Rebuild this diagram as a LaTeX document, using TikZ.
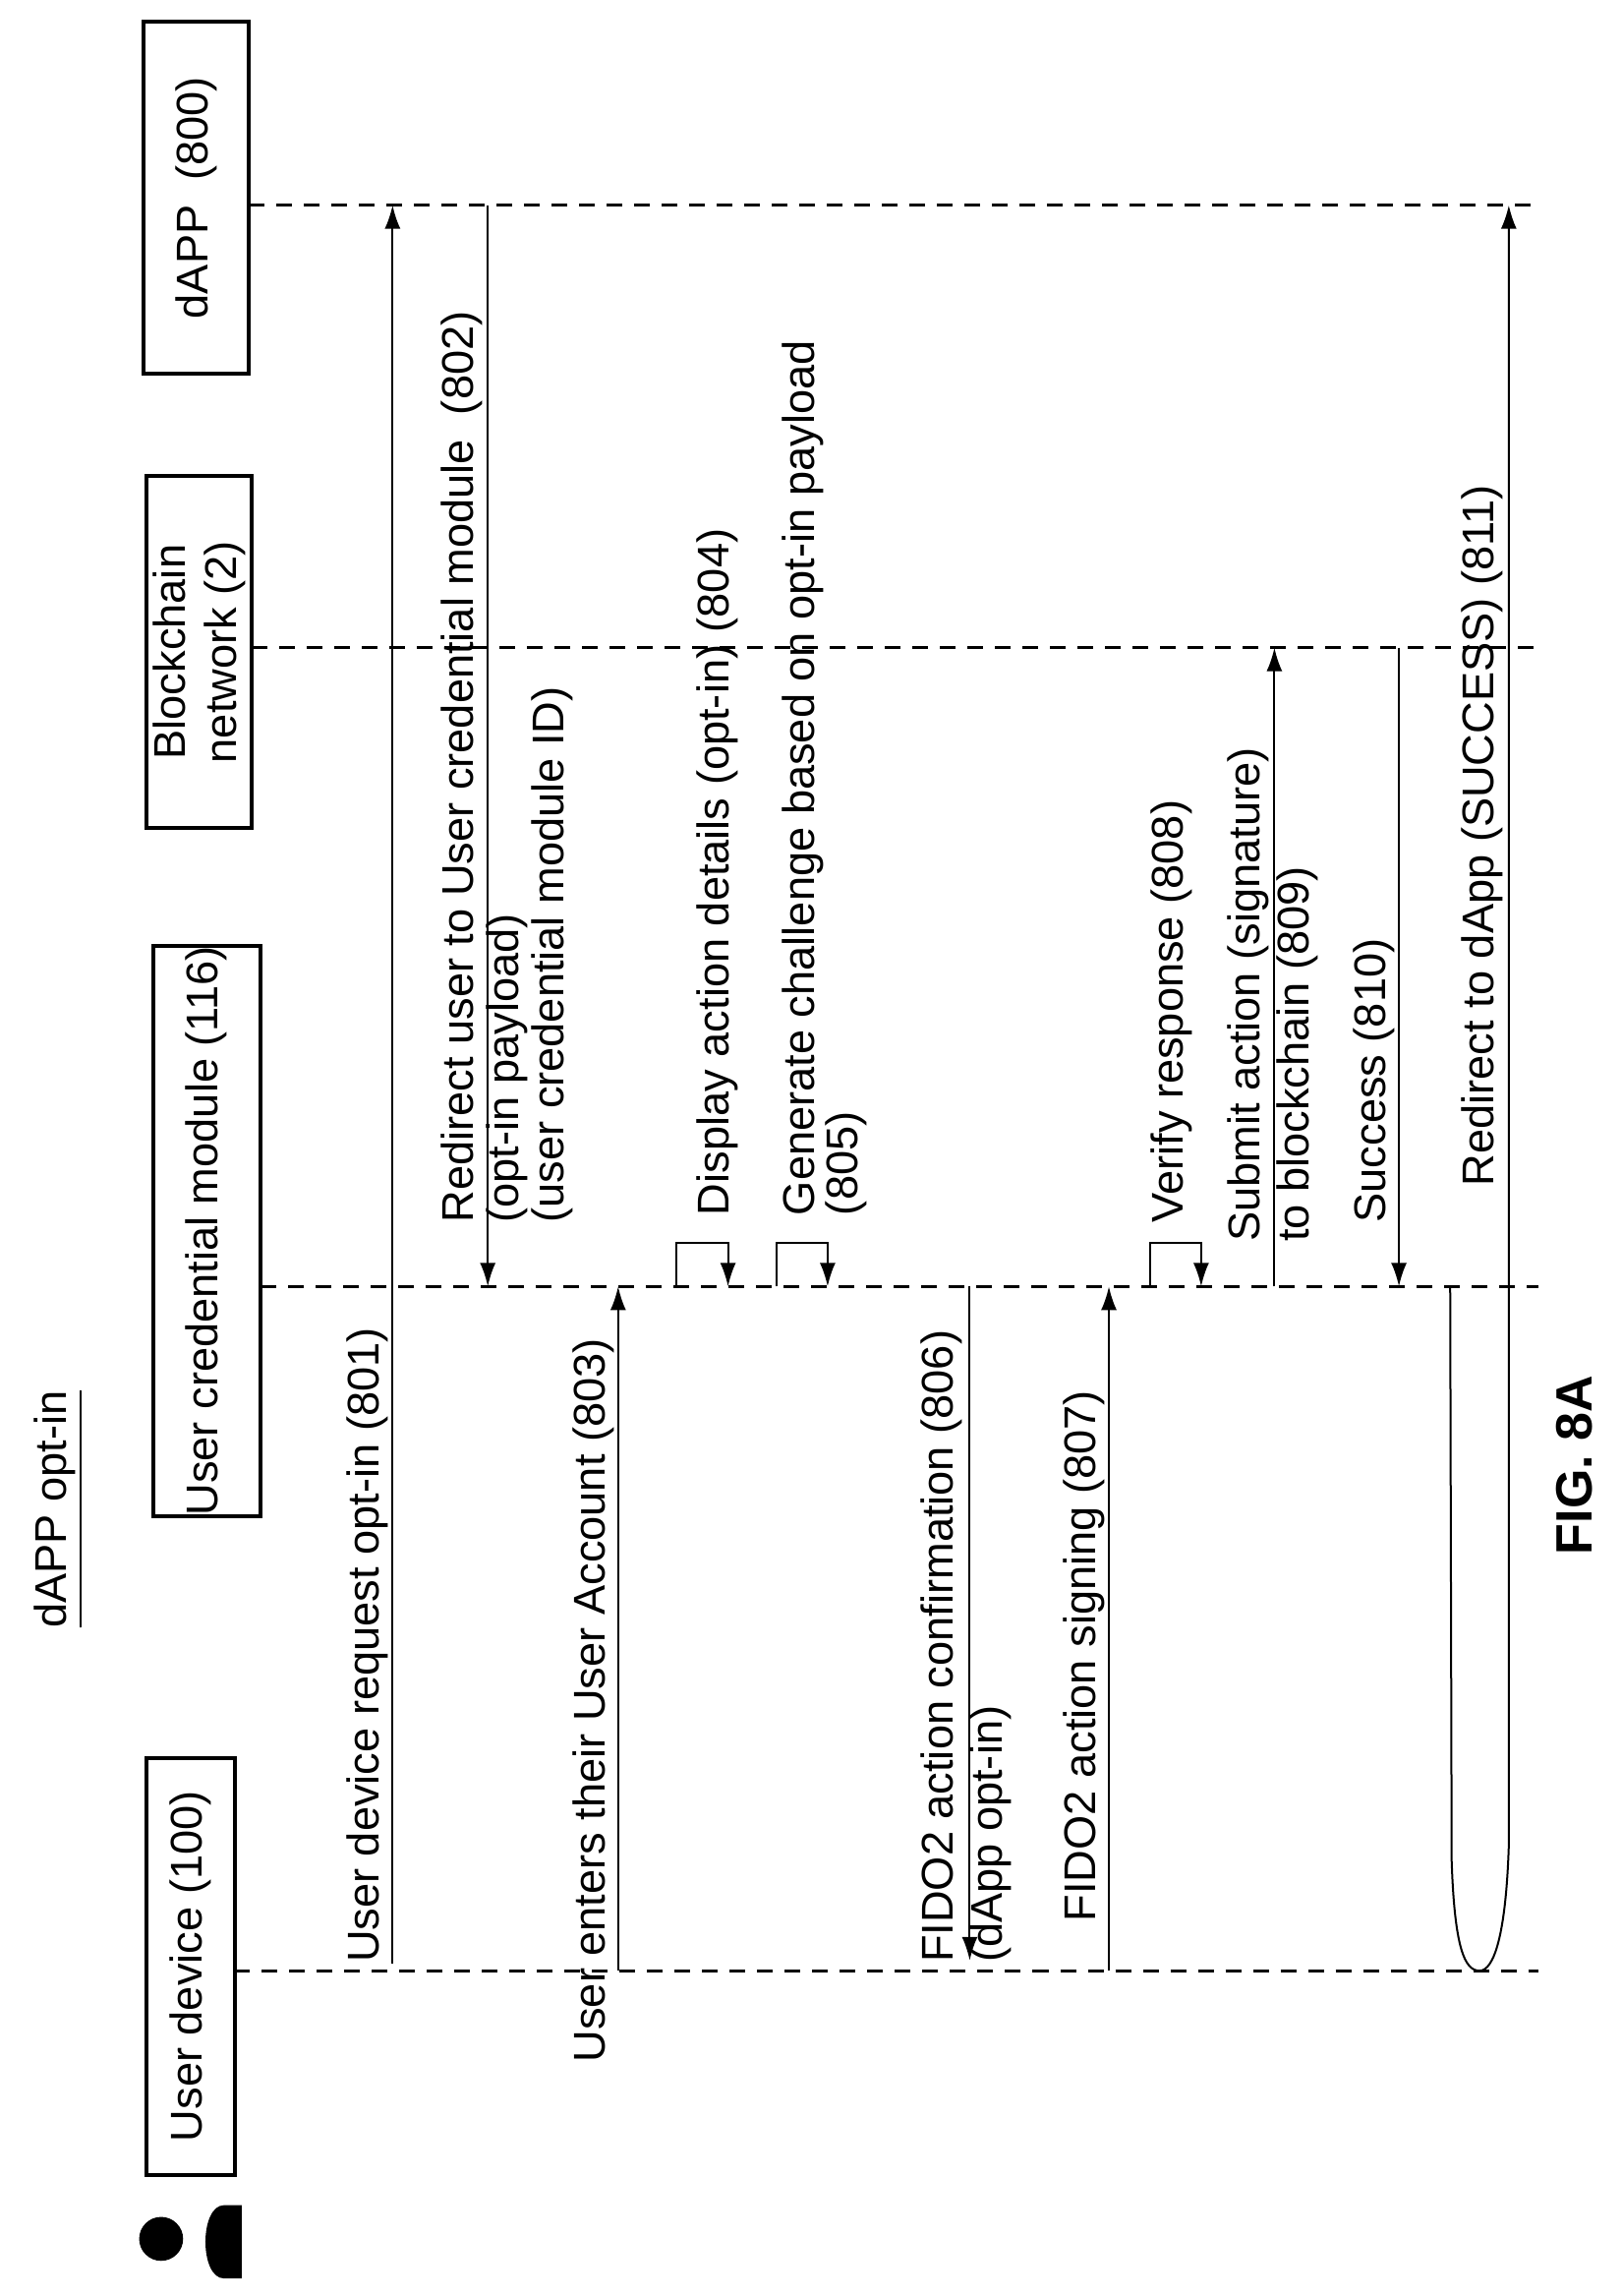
\documentclass[tikz,border=0pt]{standalone}
\usepackage{fontspec}
\setmainfont{Liberation Sans}
\usetikzlibrary{arrows.meta}
\begin{document}
\begin{tikzpicture}[x=0.3725pt,y=-0.3725pt,
  txt/.style={rotate=90,anchor=west,inner sep=0pt,font=\fontsize{11.3}{13}\selectfont},
  boxn/.style={draw,line width=1pt,rotate=90,align=center,inner sep=0pt,font=\fontsize{11.3}{13}\selectfont},
  life/.style={line width=0.7pt,dash pattern=on 4pt off 3pt},
  msg/.style={line width=0.5pt,-{Latex[length=6pt,width=4pt]}}]
\useasboundingbox (0,0) rectangle (1107,1567);
% title
\node[rotate=90,font=\fontsize{11.3}{13}\selectfont] (title) at (40,1030) {\underline{dAPP opt-in}};
% actor
\fill (110,1528) circle (15);
\fill (165,1505) -- (153,1505) .. controls (136,1505) and (136,1555) .. (153,1555) -- (165,1555) -- cycle;
% boxes
\node[boxn,minimum width=106pt,minimum height=22.4pt] (ud) at (130,1342) {User device (100)};
\node[boxn,minimum width=145pt,minimum height=27.2pt] (ucm) at (141,840) {User credential module (116)};
\node[boxn,minimum width=89.4pt,minimum height=26.8pt] (bc) at (136,445) {Blockchain\\network (2)};
\node[boxn,minimum width=89.4pt,minimum height=26.8pt] (dapp) at (134,135) {dAPP \ (800)};
% lifelines
\coordinate (udE) at (1050,1345); \coordinate (udS) at (160,1345);
\coordinate (ucS) at (178,878); \coordinate (ucE) at (1050,878);
\coordinate (bcS) at (172,442); \coordinate (bcE) at (1050,442);
\coordinate (daS) at (170,140); \coordinate (daE) at (1050,140);
\draw[life] (udS) -- (udE);
\draw[life] (ucS) -- (ucE);
\draw[life] (bcS) -- (bcE);
\draw[life] (daS) -- (daE);
% 801
\coordinate (a1) at (268,1340); \coordinate (b1) at (268,140);
\draw[msg] (a1) -- (b1);
\node[txt] (t1) at (251,1340) {User device request opt-in (801)};
% 802
\coordinate (a2) at (333,140); \coordinate (b2) at (333,878);
\draw[msg] (a2) -- (b2);
\node[txt] (t2a) at (315,835) {Redirect user to User credential module \ (802)};
\node[txt] (t2b) at (346,835) {(opt-in payload)};
\node[txt] (t2c) at (377,835) {(user credential module ID)};
% 803
\coordinate (a3) at (422,1345); \coordinate (b3) at (422,878);
\draw[msg] (a3) -- (b3);
\node[txt] (t3) at (405,1408) {User enters their User Account (803)};
% 804
\coordinate (a4) at (462,878); \coordinate (b4) at (497,878);
\draw[msg] (a4) -- (462,848) -- (497,848) -- (b4);
\node[txt] (t4) at (490,830) {Display action details (opt-in) (804)};
% 805
\coordinate (a5) at (530,878); \coordinate (b5) at (565,878);
\draw[msg] (a5) -- (530,848) -- (565,848) -- (b5);
\node[txt] (t5a) at (548,830) {Generate challenge based on opt-in payload};
\node[txt] (t5b) at (578,830) {(805)};
% 806
\coordinate (a6) at (662,878); \coordinate (b6) at (662,1338);
\draw[msg] (a6) -- (b6);
\node[txt] (t6a) at (643,1340) {FIDO2 action confirmation (806)};
\node[txt] (t6b) at (676,1340) {(dApp opt-in)};
% 807
\coordinate (a7) at (757,1345); \coordinate (b7) at (757,878);
\draw[msg] (a7) -- (b7);
\node[txt] (t7) at (740,1312) {FIDO2 action signing (807)};
% 808
\coordinate (a8) at (785,878); \coordinate (b8) at (820,878);
\draw[msg] (a8) -- (785,848) -- (820,848) -- (b8);
\node[txt] (t8) at (800,835) {Verify response (808)};
% 809
\coordinate (a9) at (870,878); \coordinate (b9) at (870,442);
\draw[msg] (a9) -- (b9);
\node[txt] (t9a) at (852,848) {Submit action (signature)};
\node[txt] (t9b) at (886,848) {to blockchain (809)};
% 810
\coordinate (a10) at (955,442); \coordinate (b10) at (955,878);
\draw[msg] (a10) -- (b10);
\node[txt] (t10) at (938,835) {Success (810)};
% 811
\coordinate (a11) at (990,878); \coordinate (b11) at (1030,140);
\draw[msg] (a11) -- (991,1270) .. controls (993,1330) and (1000,1345) .. (1010,1345)
  .. controls (1020,1345) and (1028,1320) .. (1030,1260) -- (b11);
\node[txt] (t11) at (1012,810) {Redirect to dApp (SUCCESS) (811)};
% fig
\node[rotate=90,font=\bfseries\fontsize{13}{15}\selectfont] (fig) at (1075,1000) {FIG. 8A};
\end{tikzpicture}
\end{document}
